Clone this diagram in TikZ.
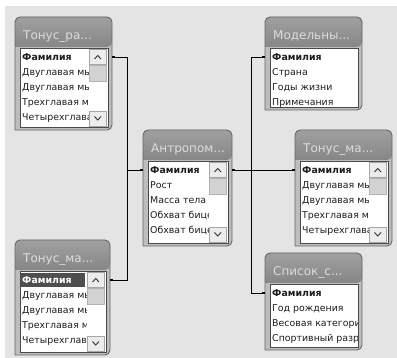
\documentclass[tikz,border=0pt]{standalone}
\usepackage{fontspec}
\setmainfont{DejaVu Sans}
\usetikzlibrary{fit,arrows.meta}
\definecolor{bg}{HTML}{E4E4E4}
\definecolor{frame}{HTML}{666666}
\definecolor{boxbody}{HTML}{BDBDBD}
\definecolor{titletop}{HTML}{A0A0A0}
\definecolor{titlebot}{HTML}{868686}
\definecolor{titletext}{HTML}{DCDCDC}
\definecolor{listline}{HTML}{4A4A4A}
\definecolor{sbbtn}{HTML}{ECECEC}
\definecolor{sbthumb}{HTML}{D2D2D2}
\definecolor{sel}{HTML}{4E4E4E}
\definecolor{rowtxt}{HTML}{1E1E1E}
\tikzset{
  rowtext/.style={anchor=base west,inner sep=0pt,text=rowtxt,font=\fontsize{9.4}{10}\selectfont},
  keytext/.style={rowtext,font=\fontsize{9.4}{10}\selectfont\bfseries},
  titlefont/.style={anchor=base west,inner sep=0pt,text=titletext,font=\fontsize{12}{13}\selectfont},
  link/.style={draw=black,line width=0.8pt},
  dot/.style={fill=black},
  sbbox/.style={fill=sbbtn,draw=gray!70,line width=0.4pt},
  chev/.style={draw=gray!40!black,line width=0.9pt}
}
% #1 name #2 L #3 T #4 R #5 B #6 title #7 scroll #8 rows #9 selected
\newcommand\mytable[9]{%
  \path[fill=boxbody,rounded corners=5pt] (#2,#5) -- (#2,#3) -- (#4,#3) -- (#4,#5) [sharp corners] -- cycle;
  \shade[top color=titletop,bottom color=titlebot,rounded corners=5pt] (#2,#3+30) -- (#2,#3) -- (#4,#3) -- (#4,#3+30) [sharp corners] -- cycle;
  \draw[frame,line width=0.9pt,rounded corners=5pt] (#2,#5) -- (#2,#3) -- (#4,#3) -- (#4,#5) [sharp corners] -- cycle;
  \node[fit={(#2,#3) (#4,#5)},inner sep=0pt] (#1) {};
  \node[titlefont] at (#2+8,#3+22.5) {#6};
  \draw[fill=white,draw=listline,line width=0.7pt] (#2+5,#3+31) rectangle (#4-4,#5-3);
  \coordinate (#1W) at (#2,#3+40);
  \coordinate (#1E) at (#4,#3+40);
  \ifnum#7=1
    \draw[sbbox] (#4-23,#3+32) rectangle (#4-5.5,#3+47);
    \draw[chev] (#4-17.5,#3+42) -- (#4-14.25,#3+38.5) -- (#4-11,#3+42);
    \draw[fill=sbthumb,draw=gray!60] (#4-23,#3+48) rectangle (#4-5.5,#3+64);
    \draw[sbbox] (#4-23,#5-19) rectangle (#4-5.5,#5-4);
    \draw[chev] (#4-17.5,#5-13.5) -- (#4-14.25,#5-10) -- (#4-11,#5-13.5);
    \def\clipR{#4-24}%
  \else
    \def\clipR{#4-5}%
  \fi
  \begin{scope}
    \clip (#2+5.5,#3+31.5) rectangle (\clipR,#5-3.5);
    \ifnum#9=1
      \fill[sel] (#2+6,#3+33) rectangle (\clipR-1,#3+47);
      \node[keytext,text=white] at (#2+7,#3+43.5) {Фамилия};
    \else
      \node[keytext] at (#2+7,#3+43.5) {Фамилия};
    \fi
    \foreach \t [count=\i] in {#8} {
      \node[rowtext] at (#2+7,#3+43.5+15*\i) {\t};
    }
  \end{scope}
}
\begin{document}
\begin{tikzpicture}[x=1pt,y=-1pt]
\useasboundingbox (0,0) rectangle (397,358);
\fill[white] (0,0) rectangle (397,358);
\fill[bg] (5,6) rectangle (397,358);
\mytable{ta}{15}{17}{112}{130}{Тонус\_ра...}{1}{Двуглавая мышца,Двуглавая мышца,Трехглавая мышца,Четырехглавая}{0}
\mytable{tb}{265}{17}{362}{110}{Модельны...}{0}{Страна,Годы жизни,Примечания}{0}
\mytable{tc}{143}{130}{232}{246}{Антропом...}{1}{Рост,Масса тела,Обхват бицепса,Обхват бицепса}{0}
\mytable{td}{295}{130}{392}{246}{Тонус\_ма...}{1}{Двуглавая мышца,Двуглавая мышца,Трехглавая мышца,Четырехглавая}{0}
\mytable{te}{15}{240}{110}{355}{Тонус\_ма...}{1}{Двуглавая мышца,Двуглавая мышца,Трехглавая мышца,Четырехглавая}{1}
\mytable{tf}{265}{253}{362}{350}{Список\_с...}{0}{Год рождения,Весовая категория,Спортивный разряд}{0}
% connectors
\draw[link] (taE) -- ++(15,0) coordinate (jl) |- (teE);
\draw[link] (tcW) -- (tcW -| jl);
\draw[link] (tcE) -- (tdW);
\draw[link] (tbW) -- ++(-14,0) coordinate (jr) |- (tfW);
\foreach \c/\s in {taE/1,teE/1,tcW/-1,tcE/1,tdW/-1,tbW/-1,tfW/-1}{
  \fill[dot] (\c) ++(0,-1.3) rectangle ++(2.6*\s,2.6);
}
\end{tikzpicture}
\end{document}
